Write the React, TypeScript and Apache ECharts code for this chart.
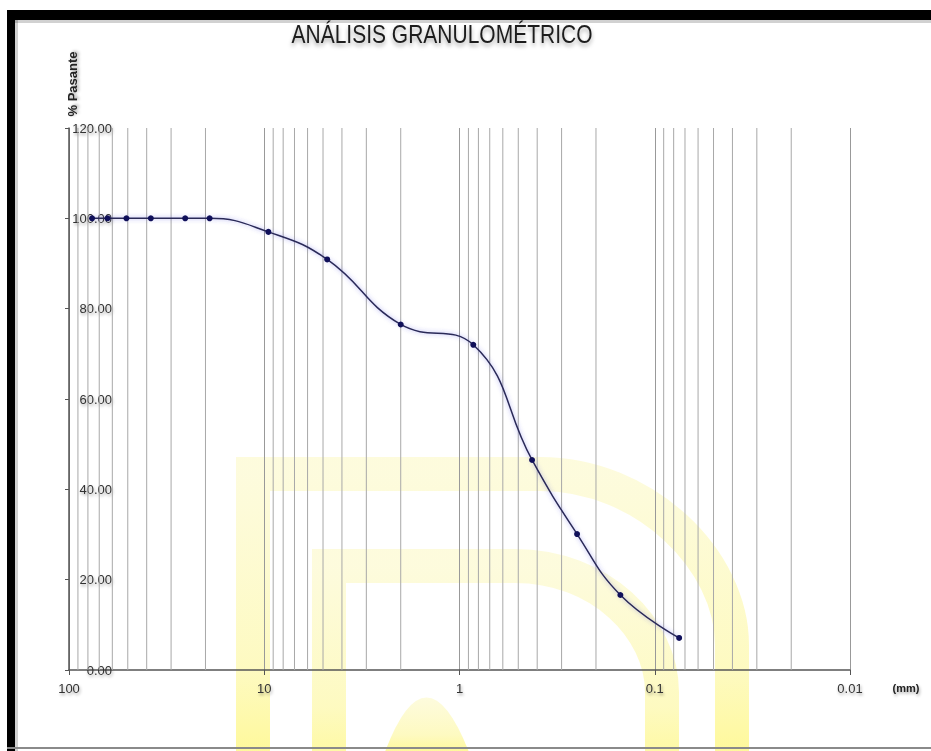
import React, { useEffect, useRef } from "react";
import * as echarts from "echarts";

// ---- data ----
const TITLE = "ANÁLISIS GRANULOMÉTRICO";
const Y_NAME = "% Pasante";
const X_UNIT = "(mm)";
// sieve openings (mm)
const sieveSizes = [76.2, 63.5, 50.8, 38.1, 25.4, 19.05, 9.525, 4.76, 2.0, 0.85, 0.425, 0.25, 0.15, 0.075];
// % passing
const percentPassing = [100, 100, 100, 100, 100, 100, 97.0, 90.9, 76.5, 72.0, 46.5, 30.1, 16.6, 7.1];
const xMin = 0.01;
const xMax = 100;
const yMin = 0;
const yMax = 120;
const yInterval = 20;
const minorMultipliers = [2, 3, 4, 5, 6, 7, 8, 9];
const decades = [0.01, 0.1, 1, 10];

// watermark outlines (decorative background logo)
const WM_OUTER = "M 253 800 L 253 474 L 540 474 C 645 474 732 560 732 645 L 732 800";
const WM_INNER = "M 329 800 L 329 566 L 515 566 C 600 566 662 628 662 692 L 662 800";
const WM_MOUND = "M 382 760 Q 426 635 472 760 Z";

const FONT = "'Liberation Sans', Arial, Helvetica, sans-serif";

const textShadow = {
  textShadowColor: "rgba(0,0,0,0.35)",
  textShadowBlur: 3,
  textShadowOffsetX: 1,
  textShadowOffsetY: 2,
};

export default function App() {
  const ref = useRef<HTMLDivElement>(null);

  useEffect(() => {
    document.body.style.margin = "0";
    if (!ref.current) return;
    echarts.graphic.registerShape("wmOuter", echarts.graphic.extendPath(WM_OUTER, {}));
    echarts.graphic.registerShape("wmInner", echarts.graphic.extendPath(WM_INNER, {}));
    echarts.graphic.registerShape("wmMound", echarts.graphic.extendPath(WM_MOUND, {}));

    const chart = echarts.init(ref.current, null, { renderer: "svg" });

    const minorValues: number[][] = [];
    decades.forEach((d) => minorMultipliers.forEach((m) => minorValues.push([d * m, 0])));

    const yellowGrad = () =>
      new echarts.graphic.LinearGradient(0, 0, 0, 1, [
        { offset: 0, color: "rgba(250,245,165,0.38)" },
        { offset: 0.6, color: "rgba(252,245,130,0.5)" },
        { offset: 1, color: "rgba(255,245,80,0.72)" },
      ]);

    const xLabel = (v: number) => {
      const e = Math.round(Math.log10(v));
      return e >= 0 ? String(Math.pow(10, e)) : Math.pow(10, e).toFixed(-e);
    };

    chart.setOption({
      animation: false,
      backgroundColor: "#ffffff",
      grid: { left: 69, right: 81, top: 128, bottom: 81, containLabel: false },
      xAxis: {
        type: "log",
        logBase: 10,
        min: xMin,
        max: xMax,
        inverse: true,
        axisLine: { show: true, lineStyle: { color: "#555", width: 1.5 } },
        axisTick: { show: true, length: 5, lineStyle: { color: "#555" } },
        axisLabel: {
          formatter: xLabel,
          color: "#333",
          fontSize: 13,
          fontFamily: FONT,
          margin: 12,
          ...textShadow,
        },
        splitLine: { show: true, lineStyle: { color: "#999", width: 1 } },
      },
      yAxis: {
        type: "value",
        min: yMin,
        max: yMax,
        interval: yInterval,
        axisLine: { show: true, lineStyle: { color: "#555", width: 1.5 } },
        axisTick: { show: true, length: 4, lineStyle: { color: "#555" } },
        axisLabel: {
          inside: true,
          align: "right",
          margin: 43,
          formatter: (v: number) => v.toFixed(2),
          color: "#333",
          fontSize: 13,
          fontFamily: FONT,
          ...textShadow,
        },
        splitLine: {
          show: true,
          lineStyle: {
            color: "#666",
            width: 1,
            shadowColor: "rgba(0,0,0,0.3)",
            shadowBlur: 3,
            shadowOffsetY: 2,
          },
        },
      },
      series: [
        {
          type: "custom",
          silent: true,
          z: 1,
          data: minorValues,
          renderItem: (params: any, api: any) => {
            const v = api.value(0);
            const p0 = api.coord([v, yMin]);
            const p1 = api.coord([v, yMax]);
            return {
              type: "line",
              shape: { x1: p0[0], y1: p0[1], x2: p1[0], y2: p1[1] },
              style: { stroke: "#a8a8a8", lineWidth: 1 },
            };
          },
        },
        {
          type: "line",
          z: 5,
          data: sieveSizes.map((d, i) => [d, percentPassing[i]]),
          smooth: 0.45,
          symbol: "circle",
          symbolSize: 6,
          itemStyle: { color: "#10105a" },
          lineStyle: {
            color: "#2a2a55",
            width: 1.5,
            shadowColor: "rgba(70,70,220,0.5)",
            shadowBlur: 4,
          },
        },
      ],
      graphic: [
        {
          type: "wmOuter",
          z: -5,
          silent: true,
          style: { fill: "none", stroke: yellowGrad(), lineWidth: 34 },
        },
        {
          type: "wmInner",
          z: -5,
          silent: true,
          style: { fill: "none", stroke: yellowGrad(), lineWidth: 34 },
        },
        {
          type: "wmMound",
          z: -5,
          silent: true,
          style: { fill: yellowGrad() },
        },
        {
          type: "text",
          x: 442,
          y: 34,
          scaleX: 0.84,
          z: 50,
          style: {
            text: TITLE,
            fill: "#1e1e1e",
            fontSize: 25,
            fontFamily: FONT,
            align: "center",
            verticalAlign: "middle",
            textShadowColor: "rgba(0,0,0,0.35)",
            textShadowBlur: 4,
            textShadowOffsetY: 3,
          },
        },
        {
          type: "text",
          x: 72,
          y: 84,
          rotation: Math.PI / 2,
          z: 50,
          style: {
            text: Y_NAME,
            fill: "#222",
            fontSize: 13,
            fontWeight: "bold",
            fontFamily: FONT,
            align: "center",
            verticalAlign: "middle",
            ...textShadow,
          },
        },
        {
          type: "text",
          x: 906,
          y: 688,
          z: 50,
          style: {
            text: X_UNIT,
            fill: "#222",
            fontSize: 11,
            fontWeight: "bold",
            fontFamily: FONT,
            align: "center",
            verticalAlign: "middle",
            ...textShadow,
          },
        },
        {
          type: "rect",
          z: 99,
          shape: { x: 7, y: 20, width: 924, height: 3 },
          style: { fill: "rgba(0,0,0,0.18)" },
        },
        {
          type: "rect",
          z: 99,
          shape: { x: 15, y: 20, width: 3, height: 731 },
          style: { fill: "rgba(0,0,0,0.18)" },
        },
        {
          type: "rect",
          z: 100,
          shape: { x: 7, y: 10, width: 924, height: 10 },
          style: { fill: "#000" },
        },
        {
          type: "rect",
          z: 100,
          shape: { x: 7, y: 10, width: 8, height: 741 },
          style: { fill: "#000" },
        },
        {
          type: "rect",
          z: 100,
          shape: { x: 7, y: 747, width: 924, height: 2 },
          style: { fill: "#8a8a8a" },
        },
      ],
    });

    return () => chart.dispose();
  }, []);

  return <div ref={ref} style={{ width: 931, height: 751 }} />;
}
